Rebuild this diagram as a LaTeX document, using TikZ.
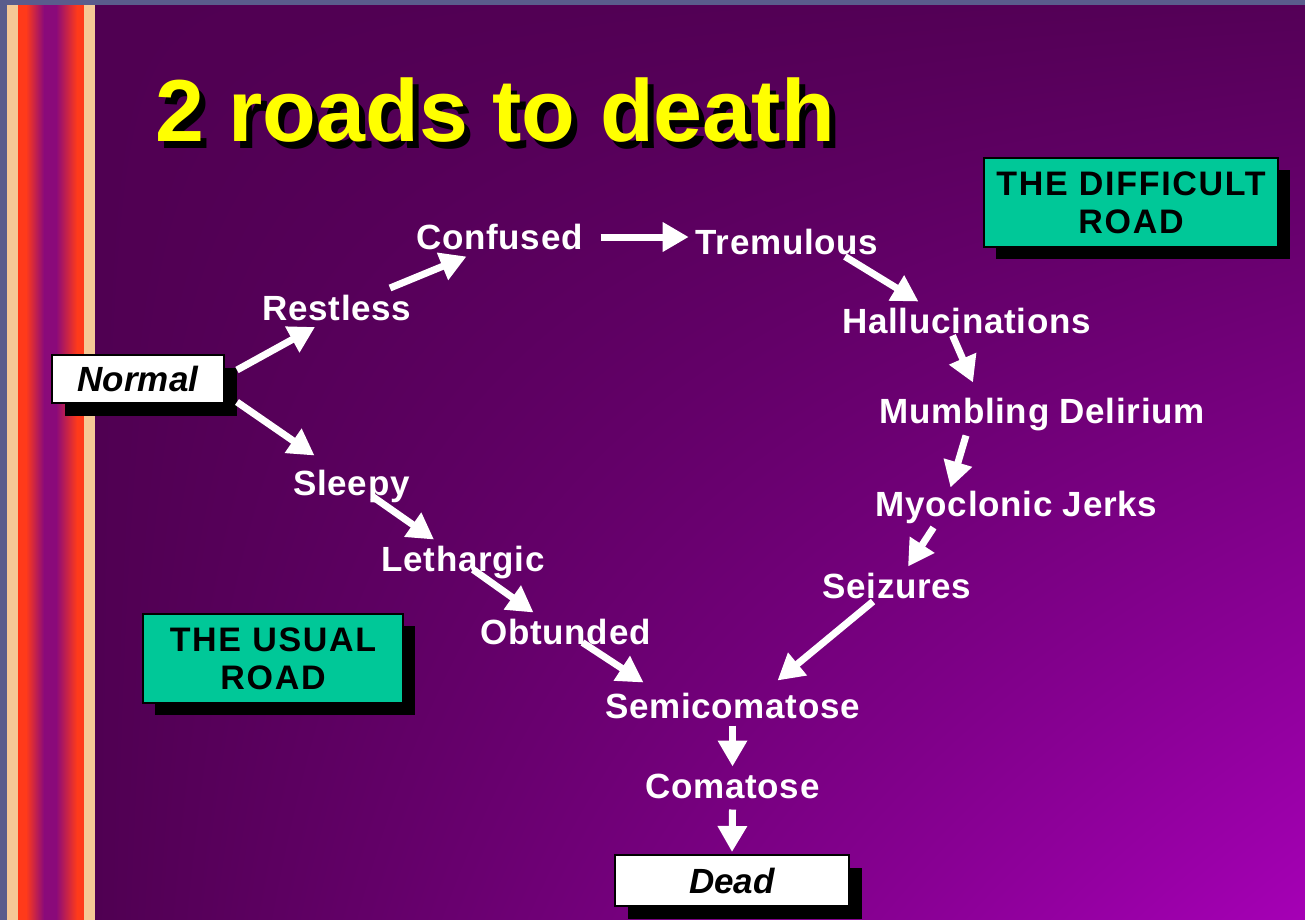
\documentclass[tikz,border=0pt]{standalone}
\usepackage{fontspec}
\setmainfont{Liberation Sans}
\newfontfamily\stagefont[LetterSpace=2]{Liberation Sans}
\newfontfamily\boxfont[LetterSpace=5]{Liberation Sans}
\usetikzlibrary{positioning, arrows.meta, shadows, shadings}
\definecolor{frameblue}{RGB}{90,92,140}
\definecolor{peach}{RGB}{245,200,150}
\definecolor{flame}{RGB}{255,58,26}
\definecolor{stripepurple}{RGB}{138,10,122}
\definecolor{bgdark}{RGB}{80,0,82}
\definecolor{bgbright}{RGB}{166,0,182}
\definecolor{roadgreen}{RGB}{0,200,152}
\definecolor{titleyellow}{RGB}{255,255,0}

\begin{document}
\begin{tikzpicture}[x=1pt, y=-1pt, inner sep=0pt,
      stage/.style={text=white, font=\stagefont\fontsize{35}{38}\selectfont\bfseries,
        text height=25pt, text depth=0pt, outer sep=7pt},
      endbox/.style={draw=black, line width=2pt, fill=white, outer sep=13pt,
        font=\fontsize{35}{38}\selectfont\bfseries\itshape,
        drop shadow={shadow xshift=13pt, shadow yshift=-13pt, fill=black, opacity=1}},
      roadbox/.style={draw=black, line width=2pt, fill=roadgreen, align=center,
        font=\boxfont\fontsize{34}{38}\selectfont\bfseries,
        drop shadow={shadow xshift=12pt, shadow yshift=-12pt, fill=black, opacity=1}},
      road/.style={draw=white, line width=7pt, -{Triangle[length=26pt, width=28pt]}}]
      \useasboundingbox (0,0) rectangle (1305,919);
      % background and stripes
      \fill[frameblue] (0,0) rectangle (1305,925);
      \shade[upper left=bgdark, upper right=bgdark!95!bgbright, lower left=bgdark,
        lower right=bgbright] (95,5) rectangle (1305,925);
      \fill[peach] (7,5) rectangle (18,925);
      \fill[flame] (18,5) rectangle (26,925);
      \shade[left color=flame, right color=stripepurple] (26,5) rectangle (44,925);
      \fill[stripepurple] (44,5) rectangle (56,925);
      \shade[left color=stripepurple, right color=flame] (56,5) rectangle (77,925);
      \fill[flame] (77,5) rectangle (84,925);
      \fill[peach] (84,5) rectangle (95,925);
      % title
      \node[anchor=base west, font=\fontsize{88}{92}\selectfont\bfseries, text=black]
        (title_shadow) at (161,148) {2 roads to death};
      \node[anchor=base west, font=\fontsize{88}{92}\selectfont\bfseries, text=titleyellow]
        (title) at (155,141) {2 roads to death};
      % ends
      \node[endbox, minimum width=172pt, minimum height=48pt] (normal) at (138,379) {Normal};
      \node[endbox, minimum width=234pt, minimum height=51pt] (dead) at (732,880.5) {Dead};
      \node[roadbox, minimum width=294pt, minimum height=89pt] (difficult) at (1131,202.5)
        {THE DIFFICULT\\ROAD};
      \node[roadbox, minimum width=260pt, minimum height=89pt] (usual) at (273,658.5)
        {THE USUAL\\ROAD};
      % the difficult road
      \node[stage] (restless) at (337,307.5) {Restless};
      \node[stage] (confused) at (499.5,237) {Confused};
      \node[stage] (tremulous) at (787,242) {Tremulous};
      \node[stage] (hallu) at (966.5,321) {Hallucinations};
      \node[stage] (mumbling) at (1042,411) {Mumbling Delirium};
      \node[stage] (myoclonic) at (1016.5,504) {Myoclonic Jerks};
      \node[stage] (seizures) at (897,586) {Seizures};
      % the usual road
      \node[stage] (sleepy) at (351.5,483) {Sleepy};
      \node[stage] (lethargic) at (463,559) {Lethargic};
      \node[stage] (obtunded) at (565.5,632) {Obtunded};
      \node[stage] (semicoma) at (732.5,706) {Semicomatose};
      \node[stage] (comatose) at (732.5,786) {Comatose};
      % arrows, difficult road
      \path ([yshift=9pt]normal.east) edge[road] ([xshift=-22pt]restless.south);
      \path ([xshift=53pt]restless.north) edge[road] ([xshift=-33pt]confused.south);
      \path ([xshift=11pt]confused.east) edge[road] (confused.east -| tremulous.west);
      \path ([xshift=58pt,yshift=5pt]tremulous.south) edge[road] ([xshift=-48pt]hallu.north);
      \path ([xshift=-14pt,yshift=5pt]hallu.south) edge[road] ([xshift=-69pt,yshift=9pt]mumbling.north);
      \path ([xshift=-76pt,yshift=-5pt]mumbling.south) edge[road] ([xshift=-66pt,yshift=-3pt]myoclonic.north);
      \path ([xshift=-83pt,yshift=-4pt]myoclonic.south) edge[road] ([xshift=11pt]seizures.north);
      \path ([xshift=-24pt,yshift=4pt]seizures.south) edge[road] ([xshift=45pt,yshift=6pt]semicoma.north);
      % arrows, usual road
      \path ([yshift=-23pt]normal.east) edge[road] ([xshift=-37pt,yshift=8pt]sleepy.north);
      \path ([xshift=21pt,yshift=6pt]sleepy.south) edge[road] ([xshift=-29pt]lethargic.north);
      \path ([xshift=10pt,yshift=9pt]lethargic.south) edge[road] ([xshift=-32pt]obtunded.north);
      \path ([xshift=17pt,yshift=9pt]obtunded.south) edge[road] ([xshift=-89pt,yshift=4pt]semicoma.north);
      \path (semicoma.south) edge[road] (comatose.north);
      \path ([yshift=-4pt]comatose.south) edge[road] ([yshift=-10pt]dead.north);
\end{tikzpicture}
\end{document}
